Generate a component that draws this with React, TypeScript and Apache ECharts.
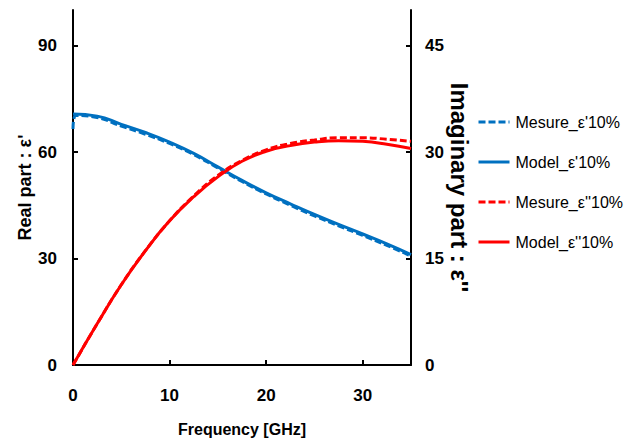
import React, { useEffect, useRef } from "react";
import * as echarts from "echarts";

const freqModel = [0, 2.5, 5, 7.5, 10, 12.5, 15, 17.5, 20, 22.5, 25, 27.5, 30, 32.5, 35];
const realModel = [70.7, 70.1, 67.8, 65.5, 62.8, 59.6, 55.8, 52.0, 48.5, 45.4, 42.4, 39.6, 36.9, 34.1, 31.1];
const imagModel = [0, 5.8, 11.3, 16.1, 20.3, 23.7, 26.5, 28.7, 30.1, 30.9, 31.4, 31.6, 31.5, 31.1, 30.5];

const freqMeas = [0, 0.3, 2.5, 5, 7.5, 10, 12.5, 15, 17.5, 20, 22.5, 25, 27.5, 30, 32.5, 35];
const realMeas = [66.5, 70.3, 69.7, 67.3, 65.0, 62.4, 59.3, 55.5, 51.7, 48.2, 45.0, 42.0, 39.2, 36.5, 33.7, 30.7];
const imagMeas = [0, 0.7, 5.8, 11.3, 16.1, 20.3, 23.8, 26.7, 28.8, 30.3, 31.2, 31.7, 32.0, 32.0, 31.8, 31.5];

const xTicks = [0, 10, 20, 30];
const leftTicks = [0, 30, 60, 90];
const rightTicks = [0, 15, 30, 45];

const seriesNames = ["Mesure_ε'10%", "Model_ε'10%", "Mesure_ε''10%", "Model_ε''10%"];

const BLUE = "#0070C0";
const RED = "#FF0000";
const FONT = "'Liberation Sans', Arial, sans-serif";

function zip(xs: number[], ys: number[]) {
  return xs.map((x, i) => [x, ys[i]]);
}

export default function App() {
  const ref = useRef<HTMLDivElement>(null);
  useEffect(() => {
    if (!ref.current) return;
    const chart = echarts.init(ref.current, null, { renderer: "svg" });
    const axisLine = { show: true, lineStyle: { color: "#000", width: 2 } };
    const labelStyle = { color: "#000", fontFamily: FONT, fontWeight: "bold" as const, fontSize: 17 };
    const tickStyle = { color: "#000", width: 2 };
    chart.setOption({
      animation: false,
      backgroundColor: "#fff",
      grid: { left: 73, right: 224, top: 10, bottom: 78 },
      legend: {
        orient: "vertical",
        left: 477,
        top: 114,
        padding: 0,
        itemWidth: 31,
        itemHeight: 14,
        itemGap: 24,
        data: seriesNames,
        itemStyle: { opacity: 0, borderWidth: 0 },
        lineStyle: { width: 3 },
        textStyle: { color: "#000", fontFamily: FONT, fontSize: 16, padding: [0, 0, 0, 1] },
      },
      xAxis: {
        type: "value",
        min: 0,
        max: 35,
        interval: 10,
        name: "Frequency [GHz]",
        nameLocation: "middle",
        nameGap: 56,
        nameMoveOverlap: false,
        nameTextStyle: { ...labelStyle, fontSize: 16 },
        axisLine,
        axisTick: { show: true, inside: true, length: 5, customValues: xTicks, lineStyle: tickStyle },
        axisLabel: { ...labelStyle, margin: 22, customValues: xTicks },
        splitLine: { show: false },
      },
      yAxis: [
        {
          type: "value",
          min: 0,
          max: 100,
          interval: 30,
          position: "left",
          name: "Real part : ε'",
          nameLocation: "middle",
          nameGap: 39,
          nameMoveOverlap: false,
          nameRotate: 90,
          nameTextStyle: { ...labelStyle, fontSize: 18 },
          axisLine,
          axisTick: { show: true, inside: true, length: 5, customValues: leftTicks, lineStyle: tickStyle },
          axisLabel: { ...labelStyle, margin: 16, customValues: leftTicks },
          splitLine: { show: false },
        },
        {
          type: "value",
          min: 0,
          max: 50,
          interval: 15,
          position: "right",
          name: "Imaginary part : ε''",
          nameLocation: "middle",
          nameGap: 36,
          nameMoveOverlap: false,
          nameRotate: -90,
          nameTextStyle: { ...labelStyle, fontSize: 24 },
          axisLine,
          axisTick: { show: true, inside: true, length: 5, customValues: rightTicks, lineStyle: tickStyle },
          axisLabel: { ...labelStyle, margin: 14, customValues: rightTicks },
          splitLine: { show: false },
        },
      ],
      series: [
        {
          name: seriesNames[0],
          type: "line",
          yAxisIndex: 0,
          smooth: true,
          symbol: "none",
          data: zip(freqMeas, realMeas),
          lineStyle: { color: BLUE, width: 3, type: [7, 3] },
          itemStyle: { color: BLUE },
        },
        {
          name: seriesNames[1],
          type: "line",
          yAxisIndex: 0,
          smooth: true,
          symbol: "none",
          data: zip(freqModel, realModel),
          lineStyle: { color: BLUE, width: 3 },
          itemStyle: { color: BLUE },
        },
        {
          name: seriesNames[2],
          type: "line",
          yAxisIndex: 1,
          smooth: true,
          symbol: "none",
          data: zip(freqMeas, imagMeas),
          lineStyle: { color: RED, width: 3, type: [7, 3] },
          itemStyle: { color: RED },
        },
        {
          name: seriesNames[3],
          type: "line",
          yAxisIndex: 1,
          smooth: true,
          symbol: "none",
          data: zip(freqModel, imagModel),
          lineStyle: { color: RED, width: 3 },
          itemStyle: { color: RED },
        },
      ],
    });
    return () => chart.dispose();
  }, []);
  return <div ref={ref} style={{ width: 635, height: 443, position: "absolute", left: 0, top: 0 }} />;
}
